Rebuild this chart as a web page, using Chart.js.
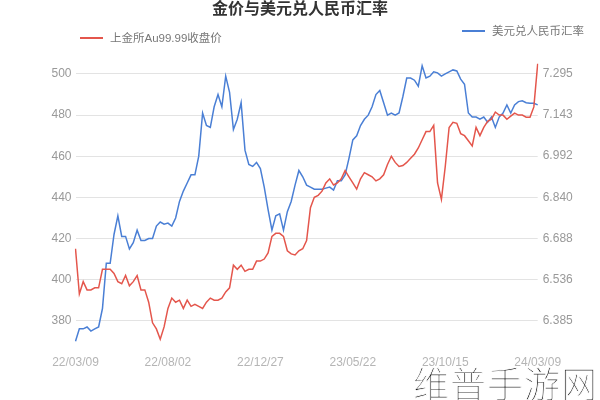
<!DOCTYPE html>
<html>
<head>
<meta charset="utf-8">
<script src="https://cdn.jsdelivr.net/npm/chart.js@4.4.1/dist/chart.umd.min.js"></script>
<style>
  body { margin: 0; background: #fff; }
  #wrap { position: relative; width: 600px; height: 400px; }
  #mark {
    position: absolute; left: 413px; top: 364px;
    font: 300 36px/36px "Noto Sans CJK SC", sans-serif;
    letter-spacing: 1px;
    color: #1a1a1a; white-space: nowrap;
    -webkit-text-stroke: 1px #fff;
  }
</style>
</head>
<body>
<div id="wrap">
  <canvas id="chart"></canvas>
  <div id="mark">维普手游网</div>
</div>
<script>
"use strict";

var chartTitle = "金价与美元兑人民币汇率";
var goldLabel = "上金所Au99.99收盘价";
var rateLabel = "美元兑人民币汇率";

// one point every ~6 days, a tick label every 24 points
var xTickLabels = ["22/03/09", "22/08/02", "22/12/27", "23/05/22", "23/10/15", "24/03/09"];
var xTickEvery = 24;

var goldTicks = [380, 400, 420, 440, 460, 480, 500];
var rateTicks = [6.385, 6.536, 6.688, 6.840, 6.992, 7.143, 7.295];
var goldRange = [368, 507];
var rateRange = [6.294, 7.348];

// 上金所Au99.99收盘价 (元/克)
var goldPrice = [
  415, 393, 399, 395, 395, 396, 396, 405, 405, 405,
  403, 399, 398, 402, 397, 399, 402, 395, 395, 389,
  379, 376, 371, 377, 386, 391, 389, 390, 386, 390,
  387, 388, 387, 386, 389, 391, 390, 390, 391, 394,
  396, 407, 405, 407, 404, 405, 405, 409, 409, 410,
  413, 421, 422.5, 422.5, 421, 414, 412.5, 412, 414, 415,
  419, 435, 440, 441, 443, 447, 449, 446, 447, 449,
  453, 450, 447, 444, 449, 452, 451, 450, 448, 449,
  451, 456, 460, 457, 455, 455.5, 457, 459, 461, 464,
  468, 472, 472, 475, 447, 439, 455, 474, 476.5, 476,
  471, 470, 467.5, 465, 474, 470, 474, 477, 478, 481.5,
  480, 480, 478, 479.5, 481, 480, 480, 479, 479, 484,
  505
];

// 美元兑人民币汇率
var usdCny = [
  6.309, 6.355, 6.355, 6.362, 6.347, 6.355, 6.362, 6.430, 6.597, 6.597,
  6.703, 6.772, 6.696, 6.696, 6.650, 6.673, 6.719, 6.681, 6.681, 6.688,
  6.688, 6.734, 6.749, 6.741, 6.745, 6.734, 6.764, 6.825, 6.863, 6.893,
  6.923, 6.923, 6.992, 7.151, 7.105, 7.098, 7.174, 7.219, 7.174, 7.287,
  7.227, 7.090, 7.128, 7.189, 7.014, 6.961, 6.954, 6.969, 6.946, 6.878,
  6.795, 6.719, 6.772, 6.779, 6.719, 6.787, 6.825, 6.885, 6.939, 6.916,
  6.885, 6.878, 6.870, 6.870, 6.870, 6.874, 6.878, 6.867, 6.901, 6.901,
  6.923, 6.984, 7.052, 7.067, 7.105, 7.128, 7.143, 7.174, 7.219, 7.234,
  7.189, 7.143, 7.151, 7.143, 7.151, 7.212, 7.280, 7.280, 7.272, 7.250,
  7.325, 7.280, 7.287, 7.303, 7.299, 7.287, 7.295, 7.303, 7.310, 7.306,
  7.276, 7.257, 7.151, 7.136, 7.136, 7.128, 7.136, 7.117, 7.136, 7.098,
  7.136, 7.151, 7.181, 7.151, 7.181, 7.193, 7.196, 7.189, 7.187, 7.187,
  7.181
];

var fontFamily = '"Liberation Sans", "Noto Sans CJK SC", sans-serif';

// two legend entries sit apart, so draw them by hand
var splitLegend = {
  id: "splitLegend",
  afterDraw: function (chart) {
    var ctx = chart.ctx;
    var spots = [
      { x: 80, y: 38 },
      { x: 462, y: 31 },
    ];
    ctx.save();
    chart.data.datasets.forEach(function (ds, idx) {
      var p = spots[idx];
      ctx.strokeStyle = ds.borderColor;
      ctx.lineWidth = 2;
      ctx.beginPath();
      ctx.moveTo(p.x, p.y);
      ctx.lineTo(p.x + 23, p.y);
      ctx.stroke();
      ctx.fillStyle = "#777";
      ctx.font = "11.5px " + fontFamily;
      ctx.textAlign = "left";
      ctx.textBaseline = "middle";
      ctx.fillText(ds.label, p.x + 30, p.y + 0.5);
    });
    ctx.restore();
  },
};

new Chart(document.getElementById("chart"), {
  type: "line",
  data: {
    labels: goldPrice.map(function (v, i) {
      return i;
    }),
    datasets: [
      {
        label: goldLabel,
        data: goldPrice,
        yAxisID: "y",
        borderColor: "#e4564c",
        borderWidth: 1.5,
        pointRadius: 0,
        tension: 0,
      },
      {
        label: rateLabel,
        data: usdCny,
        yAxisID: "y1",
        borderColor: "#4a7fd5",
        borderWidth: 1.5,
        pointRadius: 0,
        tension: 0,
      },
    ],
  },
  options: {
    responsive: true,
    maintainAspectRatio: false,
    animation: false,
    layout: { padding: 0 },
    plugins: {
      legend: { display: false },
      tooltip: { enabled: false },
      title: {
        display: true,
        text: chartTitle,
        color: "#333",
        font: { size: 16, weight: "bold", family: fontFamily },
        padding: { top: 0, bottom: 40.4 },
      },
    },
    scales: {
      x: {
        grid: { display: false, drawTicks: false },
        border: { display: false },
        ticks: {
          autoSkip: false,
          maxRotation: 0,
          padding: 10,
          color: "#b5b5b5",
          font: { size: 12, family: fontFamily },
          callback: function (val, idx) {
            return idx % xTickEvery === 0 ? xTickLabels[idx / xTickEvery] : null;
          },
        },
        afterFit: function (scale) {
          scale.height = 54.6;
        },
      },
      y: {
        position: "left",
        min: goldRange[0],
        max: goldRange[1],
        grid: { color: "#e3e3e3", drawTicks: false },
        border: { display: false },
        ticks: {
          padding: 4,
          color: "#999",
          font: { size: 12, family: fontFamily },
        },
        afterBuildTicks: function (scale) {
          scale.ticks = goldTicks.map(function (v) {
            return { value: v };
          });
        },
        afterFit: function (scale) {
          scale.width = 75.5;
        },
      },
      y1: {
        position: "right",
        min: rateRange[0],
        max: rateRange[1],
        grid: { drawOnChartArea: false, drawTicks: false },
        border: { display: false },
        ticks: {
          padding: 5,
          color: "#999",
          font: { size: 12, family: fontFamily },
          callback: function (v) {
            return v.toFixed(3);
          },
        },
        afterBuildTicks: function (scale) {
          scale.ticks = rateTicks.map(function (v) {
            return { value: v };
          });
        },
        afterFit: function (scale) {
          scale.width = 62.3;
        },
      },
    },
  },
  plugins: [splitLegend],
});
</script>
</body>
</html>
